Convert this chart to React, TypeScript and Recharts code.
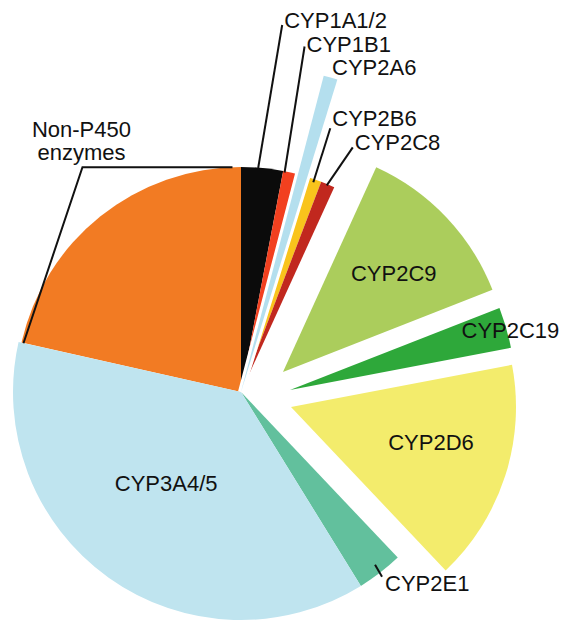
import React from "react";
import { PieChart, Pie, Cell } from "recharts";

// share of drugs metabolised, % (clockwise from 12 o'clock)
const enzymes = [
  "CYP1A1/2",
  "CYP1B1",
  "CYP2A6",
  "CYP2B6",
  "CYP2C8",
  "CYP2C9",
  "CYP2C19",
  "CYP2D6",
  "CYP2E1",
  "CYP3A4/5",
  "Non-P450 enzymes",
];
const shares = [3.0, 1.07, 0.69, 1.04, 1.0, 12.25, 2.94, 15.94, 3.25, 37.33, 21.47];
const colors = [
  "#0b0b0b",
  "#f2401f",
  "#b4dfee",
  "#f9c41c",
  "#c1281e",
  "#abcd5c",
  "#2ea83a",
  "#f3ec6c",
  "#62c09d",
  "#bfe4ef",
  "#f27b23",
];

const data = enzymes.map((name, i) => ({ name, value: shares[i] }));

const CX = 241;
const CY = 392;
const RAD = Math.PI / 180;
const FONT = "'Liberation Sans', Arial, Helvetica, sans-serif";

interface Layer {
  key: string;
  members: string[];
  radius: number;
  shift?: [number, number]; // distance, direction (deg)
  halo?: boolean;
}

const layers: Layer[] = [
  { key: "base", members: ["CYP1A1/2", "CYP1B1", "CYP2B6", "CYP2C8", "Non-P450 enzymes"], radius: 225 },
  { key: "lower", members: ["CYP2E1", "CYP3A4/5"], radius: 228 },
  { key: "halo", members: ["CYP2A6"], radius: 327, halo: true },
  { key: "2a6", members: ["CYP2A6"], radius: 327 },
  { key: "2c9", members: ["CYP2C9"], radius: 225, shift: [46.5, 25.5] },
  { key: "2c19", members: ["CYP2C19"], radius: 225, shift: [49, 2.3] },
  { key: "2d6", members: ["CYP2D6"], radius: 225, shift: [52.2, -16.7] },
];

type LabelSpec =
  | { kind: "inside"; at: number; dx: number; dy: number }
  | { kind: "callout"; path: [number, number][]; text: [number, number]; anchor: "start" | "middle"; lines?: string[] };

const labelSpec: Record<string, LabelSpec> = {
  "CYP1A1/2": { kind: "callout", path: [[-4, 0], [20, -143]], text: [22, -140], anchor: "start" },
  CYP1B1: { kind: "callout", path: [[-6, 0], [14, -126]], text: [16, -121], anchor: "start" },
  CYP2A6: { kind: "callout", path: [], text: [1.5, -2.5], anchor: "start" },
  CYP2B6: { kind: "callout", path: [[-1, 3], [16, -51]], text: [18, -53], anchor: "start" },
  CYP2C8: { kind: "callout", path: [[-1, 1], [25, -37]], text: [27, -34], anchor: "start" },
  "Non-P450 enzymes": {
    kind: "callout",
    path: [[132, -49], [-18, -49], [-77, 127]],
    text: [-19, -79],
    anchor: "middle",
    lines: ["Non-P450", "enzymes"],
  },
  CYP2E1: { kind: "callout", path: [[-5, -8], [2, 4]], text: [5, 18], anchor: "start" },
  "CYP3A4/5": { kind: "inside", at: 0.52, dx: -6, dy: -5 },
  CYP2C9: { kind: "inside", at: 0.66, dx: 3, dy: 4 },
  CYP2C19: { kind: "inside", at: 1.02, dx: 0, dy: 4 },
  CYP2D6: { kind: "inside", at: 0.64, dx: 3, dy: -9 },
};

const textStyle = { fontFamily: FONT, fontSize: 22, fill: "#111" };

function makeLabel(layer: Layer) {
  return (props: any) => {
    const name: string = props.payload?.name ?? props.name ?? enzymes[props.index];
    if (layer.halo || !layer.members.includes(name)) return null;
    const spec = labelSpec[name];
    if (!spec) return null;
    const { cx, cy, midAngle, outerRadius } = props;
    const cos = Math.cos(-midAngle * RAD);
    const sin = Math.sin(-midAngle * RAD);
    if (spec.kind === "inside") {
      const r = outerRadius * spec.at;
      return (
        <text
          x={cx + r * cos + spec.dx}
          y={cy + r * sin + spec.dy}
          textAnchor="middle"
          dominantBaseline="central"
          style={textStyle}
        >
          {name}
        </text>
      );
    }
    const ax = cx + outerRadius * cos;
    const ay = cy + outerRadius * sin;
    const pts = spec.path.map(([dx, dy]) => `${ax + dx},${ay + dy}`).join(" ");
    const lines = spec.lines ?? [name];
    return (
      <g>
        {spec.path.length > 1 && (
          <polyline points={pts} fill="none" stroke="#111" strokeWidth={2} />
        )}
        <text x={ax + spec.text[0]} y={ay + spec.text[1]} textAnchor={spec.anchor} style={textStyle}>
          {lines.map((l, i) => (
            <tspan key={l} x={ax + spec.text[0]} dy={i === 0 ? 0 : 23}>
              {l}
            </tspan>
          ))}
        </text>
      </g>
    );
  };
}

export default function App() {
  return (
    <div style={{ width: 561, height: 621, background: "#fff" }}>
      <style>{"body{margin:0}"}</style>
      <PieChart width={561} height={621} margin={{ top: 0, right: 0, bottom: 0, left: 0 }}>
        {layers.map((layer) => {
          const [dist, dir] = layer.shift ?? [0, 0];
          const cx = CX + dist * Math.cos(dir * RAD);
          const cy = CY - dist * Math.sin(dir * RAD);
          return (
            <Pie
              key={layer.key}
              data={data}
              dataKey="value"
              nameKey="name"
              cx={cx}
              cy={cy}
              innerRadius={0}
              outerRadius={layer.radius}
              startAngle={90}
              endAngle={-270}
              stroke="none"
              labelLine={false}
              label={makeLabel(layer)}
              isAnimationActive={false}
            >
              {data.map((d, i) => {
                const on = layer.members.includes(d.name);
                if (layer.halo) {
                  return (
                    <Cell
                      key={d.name}
                      fill={on ? "#fff" : "none"}
                      stroke={on ? "#fff" : "none"}
                      strokeWidth={on ? 6 : 0}
                    />
                  );
                }
                return <Cell key={d.name} fill={on ? colors[i] : "none"} stroke="none" />;
              })}
            </Pie>
          );
        })}
      </PieChart>
    </div>
  );
}
